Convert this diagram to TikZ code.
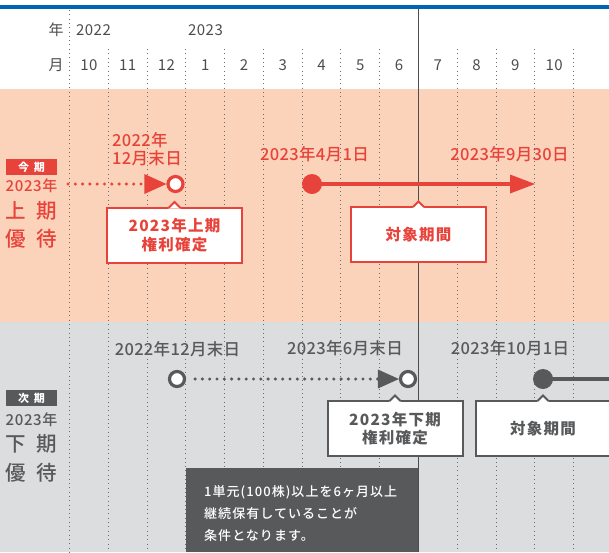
\documentclass[tikz,border=0pt]{standalone}
\usepackage{fontspec}
\setmainfont{Noto Sans CJK JP}
\newfontfamily\mdfont{Noto Sans CJK JP}[UprightFont={* Medium}]
\usetikzlibrary{arrows.meta}
\definecolor{jred}{HTML}{E8433A}
\definecolor{peach}{HTML}{FBD3BA}
\definecolor{greybg}{HTML}{DCDDDF}
\definecolor{dk}{HTML}{58595B}
\definecolor{topblue}{HTML}{0066B3}
\definecolor{hdr}{HTML}{4D4D4F}
\definecolor{dotc}{HTML}{6D6E70}
\newcommand\calloutnotch[2]{%
  \fill[white] ([xshift=-6pt,yshift=-1.1pt]#1.north) -- ([yshift=5.5pt]#1.north) -- ([xshift=6pt,yshift=-1.1pt]#1.north) -- cycle;
  \draw[#2, line width=2pt, line join=miter] ([xshift=-5.5pt]#1.north) -- ([yshift=5.5pt]#1.north) -- ([xshift=5.5pt]#1.north);}
\begin{document}
\begin{tikzpicture}[x=1pt,y=-1pt,
  gridline/.style={dotc, line width=0.9pt, dash pattern=on 0.9pt off 3.4pt},
  hdrtext/.style={text=hdr, font=\fontsize{15}{17}\selectfont\addfontfeature{LetterSpace=3}, inner sep=0pt},
  datered/.style={text=jred, font=\mdfont\fontsize{16.5}{19}\selectfont\addfontfeature{LetterSpace=2}, inner sep=0pt},
  datedk/.style={text=dk, font=\mdfont\fontsize{16.5}{19}\selectfont\addfontfeature{LetterSpace=2}, inner sep=0pt},
  opencirc/.style={circle, fill=white, line width=3.2pt, minimum size=15pt, inner sep=0pt},
  fillcirc/.style={circle, minimum size=20pt, inner sep=0pt},
  dotconn/.style={line width=3.4pt, line cap=round, dash pattern=on 0pt off 7.3pt},
  callout/.style={draw, fill=white, line width=2pt, minimum width=135pt, minimum height=55pt, align=center, outer sep=0pt, font=\bfseries\fontsize{15.5}{18.5}\selectfont\addfontfeature{LetterSpace=8}},
  tagbox/.style={minimum width=51pt, minimum height=16pt, inner sep=0pt, text=white, font=\bfseries\fontsize{11}{12}\selectfont},
  sidetext/.style={inner sep=0pt, font=\mdfont\fontsize{15}{17}\selectfont\addfontfeature{LetterSpace=4}},
  bigside/.style={inner sep=0pt, font=\mdfont\fontsize{20.5}{24}\selectfont},
]
\useasboundingbox (0,0) rectangle (609,552);
% backgrounds
\fill[white] (0,0) rectangle (609,89);
\fill[topblue] (0,5) rectangle (609,8.5);
\fill[peach] (0,89) rectangle (609,321.5);
\fill[greybg] (0,321.5) rectangle (609,552);
% grid lines
\foreach \k in {0,...,13}{
  \ifnum\k=9\relax\else
    \pgfmathsetmacro{\gx}{69.5+38.77*\k}
    \ifnum\k=0 \def\gy{10}\else\def\gy{49}\fi
    \draw[gridline] (\gx,\gy) -- (\gx,552);
  \fi}
\draw[hdr, line width=1.2pt] (418.2,8.5) -- (418.2,552);
% header
\node[hdrtext] (nen) at (56,30) {年};
\node[hdrtext] (tsuki) at (56,65) {月};
\node[hdrtext, anchor=west] (y22) at (76,30) {2022};
\node[hdrtext, anchor=west] (y23) at (188,30) {2023};
\foreach \m [count=\j from 0] in {10,11,12,1,2,3,4,5,6,7,8,9,10}
  \node[hdrtext] (m\j) at ({88.9+38.77*\j},65) {\m};
% left labels upper
\node[tagbox, fill=jred] (tag1) at (31.5,167) {今\hspace{5pt}期};
\node[sidetext, text=jred] (yr1) at (31.5,186) {2023年};
\node[bigside, text=jred] (kami) at (31.5,211) {上\hspace{11pt}期};
\node[bigside, text=jred] (yu1) at (31.5,239) {優\hspace{11pt}待};
% left labels lower
\node[tagbox, fill=dk] (tag2) at (31.5,398) {次\hspace{5pt}期};
\node[sidetext, text=dk] (yr2) at (31.5,420) {2023年};
\node[bigside, text=dk] (shimo) at (31.5,444) {下\hspace{11pt}期};
\node[bigside, text=dk] (yu2) at (31.5,473) {優\hspace{11pt}待};
% upper timeline
\coordinate (s1) at (68,184);
\node[opencirc, draw=jred] (c1) at (175.5,184) {};
\draw[jred, dotconn, -{Triangle[length=22pt,width=20pt,line width=0pt]}] (s1) -- (c1.west);
\node[fillcirc, fill=jred] (c2) at (312,184) {};
\coordinate (e1) at (535,184);
\draw[jred, line width=4pt, -{Triangle[length=25pt,width=19pt,line width=0pt]}] (c2.center) -- (e1);
\node[datered, align=left, anchor=west, font=\mdfont\fontsize{16.5}{18.5}\selectfont\addfontfeature{LetterSpace=2}] (d1) at (112,149) {2022年\\12月末日};
\node[datered] (d2) at (314.5,154) {2023年4月1日};
\node[datered] (d3) at (509.5,154) {2023年9月30日};
\node[callout, draw=jred, text=jred] (b1) at (174.5,235) {2023年上期\\権利確定};
\calloutnotch{b1}{jred}
\node[callout, draw=jred, text=jred] (b2) at (418.5,234.5) {対象期間};
\calloutnotch{b2}{jred}
% lower timeline
\node[opencirc, draw=dk] (c3) at (177,379) {};
\node[opencirc, draw=dk] (c4) at (408,379) {};
\draw[dk, dotconn, -{Triangle[length=21pt,width=19pt,line width=0pt]}] (c3.east) ++(9,0) -- (c4.west);
\node[fillcirc, fill=dk] (c5) at (543,379) {};
\coordinate (e2) at (612,379);
\draw[dk, line width=4pt] (c5.center) -- (e2);
\node[datedk] (d4) at (177.5,349) {2022年12月末日};
\node[datedk] (d5) at (345,348) {2023年6月末日};
\node[datedk] (d6) at (510,348) {2023年10月1日};
\node[callout, draw=dk, text=dk] (b3) at (395,428.5) {2023年下期\\権利確定};
\calloutnotch{b3}{dk}
\node[callout, draw=dk, text=dk] (b4) at (543,428.5) {対象期間};
\calloutnotch{b4}{dk}
% note box
\node[fill=dk, minimum width=232pt, minimum height=84pt, anchor=north west, inner sep=0pt] (note) at (186,468) {};
\node[text=white, anchor=west, align=left, inner sep=0pt, font=\mdfont\fontsize{13}{22}\selectfont\addfontfeature{LetterSpace=8}] (notetext) at (204,514) {1単元(100株)以上を6ヶ月以上\\継続保有していることが\\条件となります。};
\end{tikzpicture}
\end{document}
